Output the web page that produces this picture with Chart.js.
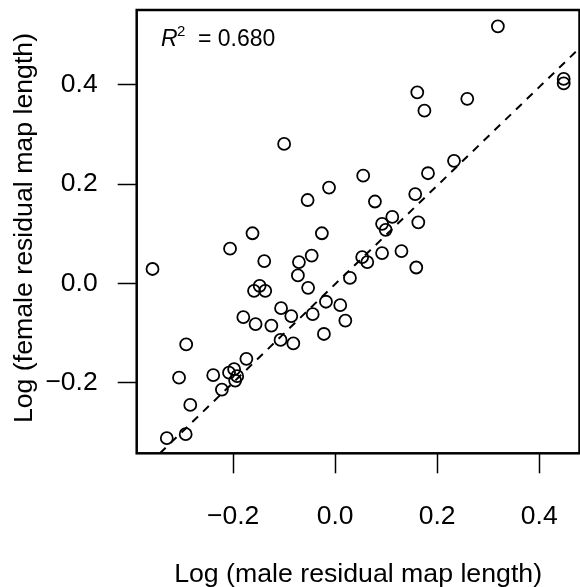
<!DOCTYPE html>
<html lang="en">
<head>
  <meta charset="UTF-8">
  <title>Female vs male residual map length</title>
  <script src="https://cdn.jsdelivr.net/npm/chart.js"></script>
  <style>
    body {
      margin: 0;
      background: #fff;
      overflow: hidden;
    }
    #wrap {
      width: 580px;
      height: 587px;
    }
  </style>
</head>
<body>

<div id="wrap">
  <canvas id="scatter" width="580" height="587"></canvas>
</div>

<script>
  // values
  const maleLog = [
    0.319, 0.448, 0.448, 0.161, 0.175, 0.259, -0.100, 0.233, 0.182, 0.055,
    -0.012, -0.054, 0.078, 0.157, 0.112, 0.092, 0.099, 0.163, -0.162, -0.026,
    -0.206, -0.358, -0.139, -0.046, -0.071, -0.073, -0.053, 0.029, 0.053, 0.063,
    0.092, 0.130, 0.159, -0.159, -0.148, -0.137, -0.106, -0.086, -0.180, -0.156,
    -0.125, -0.018, -0.044, 0.010, 0.020, -0.022, -0.107, -0.082, -0.292, -0.306,
    -0.239, -0.208, -0.198, -0.192, -0.196, -0.174, -0.222, -0.284, -0.330, -0.293
  ];
  const femaleLog = [
    0.518, 0.412, 0.403, 0.385, 0.348, 0.372, 0.281, 0.247, 0.222, 0.217,
    0.193, 0.168, 0.165, 0.180, 0.134, 0.120, 0.108, 0.123, 0.101, 0.101,
    0.070, 0.029, 0.045, 0.056, 0.043, 0.016, -0.009, 0.011, 0.053, 0.043,
    0.061, 0.065, 0.032, -0.015, -0.005, -0.015, -0.050, -0.066, -0.068, -0.082,
    -0.085, -0.037, -0.062, -0.044, -0.075, -0.102, -0.114, -0.121, -0.123, -0.190,
    -0.185, -0.180, -0.173, -0.187, -0.196, -0.152, -0.214, -0.245, -0.312, -0.304
  ];
  // dashed fit line, end points where it meets the box
  const fitX = [-0.3435, 0.479];
  const fitY = [-0.3425, 0.474];

  const xTicks = [-0.2, 0.0, 0.2, 0.4];
  const yTicks = [-0.2, 0.0, 0.2, 0.4];
  const r2Text = '0.680';
  const xTitle = 'Log (male residual map length)';
  const yTitle = 'Log (female residual map length)';

  const FONT = '"Liberation Sans", Arial, Helvetica, sans-serif';

  function fmt(v) {
    const s = Math.abs(v).toFixed(1);
    return v < 0 ? '\u2212' + s : s;
  }

  const boxPlugin = {
    id: 'box',
    afterDraw(chart) {
      const c = chart.ctx;
      const a = chart.chartArea;
      c.save();
      c.strokeStyle = '#000';
      c.lineWidth = 2.5;
      c.strokeRect(a.left, a.top, a.right - a.left, a.bottom - a.top);

      c.fillStyle = '#000';
      c.textBaseline = 'alphabetic';
      // R^2 label
      c.font = 'italic 23px ' + FONT;
      c.textAlign = 'left';
      c.fillText('R', 161, 46);
      c.font = '15px ' + FONT;
      c.fillText('2', 177, 36);
      c.font = '23px ' + FONT;
      c.fillText('= ' + r2Text, 198, 46);

      // axis titles
      c.font = '26.7px ' + FONT;
      c.textAlign = 'center';
      c.textBaseline = 'middle';
      c.fillText(xTitle, (a.left + a.right) / 2, 575);
      c.translate(25, 228);
      c.rotate(-Math.PI / 2);
      c.fillText(yTitle, 0, 0);
      c.restore();
    }
  };

  const ctx = document.getElementById('scatter').getContext('2d');
  new Chart(ctx, {
    type: 'scatter',
    data: {
      datasets: [{
        label: 'species',
        data: maleLog.map((x, i) => ({ x: x, y: femaleLog[i] })),
        pointStyle: 'circle',
        pointRadius: 6,
        pointHoverRadius: 6,
        borderColor: '#000',
        backgroundColor: 'rgba(0,0,0,0)',
        borderWidth: 1.8
      }, {
        type: 'line',
        label: 'fit',
        data: fitX.map((x, i) => ({ x: x, y: fitY[i] })),
        borderColor: '#000',
        borderWidth: 2,
        borderDash: [8, 7],
        pointRadius: 0,
        fill: false
      }]
    },
    options: {
      responsive: false,
      animation: false,
      devicePixelRatio: 1,
      layout: {
        autoPadding: false,
        padding: { top: 10, right: 0.5, left: 0, bottom: 0 }
      },
      plugins: {
        legend: { display: false },
        tooltip: { enabled: false }
      },
      scales: {
        x: {
          type: 'linear',
          min: -0.389,
          max: 0.479,
          afterBuildTicks: s => { s.ticks = xTicks.map(v => ({ value: v })); },
          afterFit: s => {
            s.height = 133.7;
            s.paddingLeft = 0;
            s.paddingRight = 0;
          },
          border: { display: false },
          grid: {
            drawOnChartArea: false,
            drawTicks: true,
            tickLength: 20,
            tickWidth: 1.5,
            tickColor: '#000'
          },
          ticks: {
            color: '#000',
            font: { family: FONT, size: 26.5 },
            padding: 27,
            maxRotation: 0,
            callback: v => fmt(v)
          }
        },
        y: {
          type: 'linear',
          min: -0.3425,
          max: 0.551,
          afterBuildTicks: s => { s.ticks = yTicks.map(v => ({ value: v })); },
          afterFit: s => {
            s.width = 136.7;
            s.paddingTop = 0;
            s.paddingBottom = 0;
          },
          border: { display: false },
          grid: {
            drawOnChartArea: false,
            drawTicks: true,
            tickLength: 19,
            tickWidth: 1.5,
            tickColor: '#000'
          },
          ticks: {
            color: '#000',
            font: { family: FONT, size: 26.5 },
            padding: 20,
            callback: v => fmt(v)
          }
        }
      }
    },
    plugins: [boxPlugin]
  });
</script>

</body>
</html>
